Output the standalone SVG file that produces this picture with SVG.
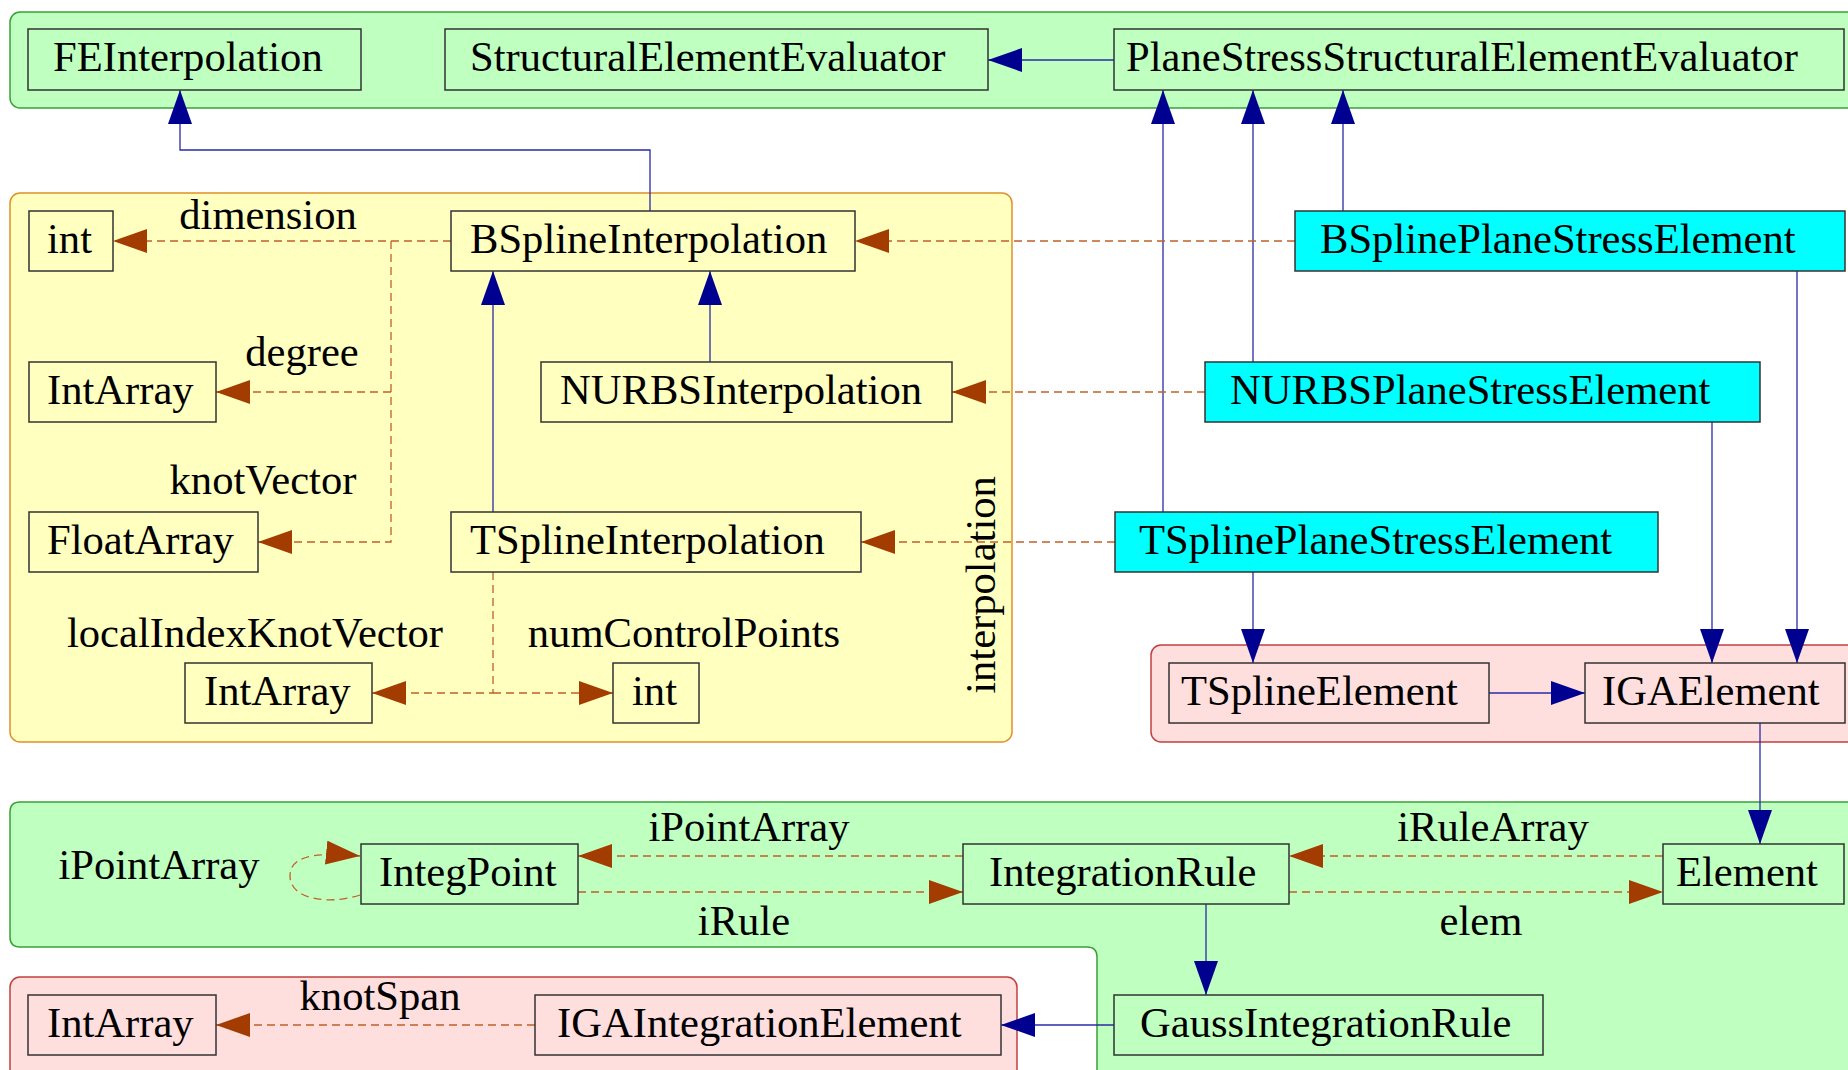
<svg xmlns="http://www.w3.org/2000/svg" width="1848" height="1070" viewBox="0 0 1848 1070">
<style>
text{font-family:"Liberation Serif","Times New Roman",serif;font-size:42.6px;fill:#000}
.lbl{text-anchor:middle}
.node{stroke:#333;stroke-width:1.5}
.plain{fill:none}
.cyan{fill:#00ffff}
.inh{fill:none;stroke:#2a2aa8;stroke-width:1.3;marker-end:url(#ah)}
.dep{fill:none;stroke:#c0602a;stroke-width:1.3;stroke-dasharray:8 5;marker-end:url(#dh)}
</style>
<defs>
<marker id="ah" markerUnits="userSpaceOnUse" markerWidth="34" markerHeight="24" refX="34" refY="12" orient="auto"><path d="M0,0 L34,12 L0,24 Z" fill="#000090"/></marker>
<marker id="dh" markerUnits="userSpaceOnUse" markerWidth="34" markerHeight="24" refX="34" refY="12" orient="auto"><path d="M0,0 L34,12 L0,24 Z" fill="#a33c00"/></marker>
</defs>
<rect width="1848" height="1070" fill="#fff"/>
<g id="clusters">
<rect x="10" y="12" width="1860" height="96" rx="10" fill="#bfffbf" stroke="#3aa03a" stroke-width="1.5"/>
<rect x="10" y="193" width="1002" height="549" rx="10" fill="#ffffc0" stroke="#e0902a" stroke-width="1.5"/>
<rect x="1151" y="645" width="720" height="97" rx="10" fill="#ffdede" stroke="#c04040" stroke-width="1.5"/>
<path d="M10,812 Q10,802 20,802 H1870 V1090 H1097 V957 Q1097,947 1087,947 H20 Q10,947 10,937 Z" fill="#bfffbf" stroke="#3aa03a" stroke-width="1.5"/>
<rect x="10" y="977" width="1007" height="110" rx="10" fill="#ffdede" stroke="#c04040" stroke-width="1.5"/>
<text transform="translate(995,585) rotate(-90)" class="lbl">interpolation</text>
</g>
<g id="connectors">
<path class="inh" d="M1114,60 H988"/>
<path class="inh" d="M650,211 V150 H180 V90"/>
<path class="inh" d="M1163,512 V90"/>
<path class="inh" d="M1253,362 V90"/>
<path class="inh" d="M1343,211 V90"/>
<path class="inh" d="M493,512 V271"/>
<path class="inh" d="M710,362 V271"/>
<path class="inh" d="M1253,572 V663"/>
<path class="inh" d="M1712,422 V663"/>
<path class="inh" d="M1797,271 V663"/>
<path class="inh" d="M1489,693 H1585"/>
<path class="inh" d="M1760,723 V844"/>
<path class="inh" d="M1206,904 V995"/>
<path class="inh" d="M1114,1025 H1001"/>
<path class="dep" d="M451,241 H113"/>
<path class="dep" d="M391,241 V542 H258"/>
<path class="dep" d="M391,392 H216"/>
<path class="dep" d="M493,572 V693 H372"/>
<path class="dep" d="M493,693 H613"/>
<path class="dep" d="M1295,241 H855"/>
<path class="dep" d="M1205,392 H952"/>
<path class="dep" d="M1115,542 H861"/>
<path class="dep" d="M963,856 H578"/>
<path class="dep" d="M578,892 H963"/>
<path class="dep" d="M1663,856 H1289"/>
<path class="dep" d="M1289,892 H1663"/>
<path class="dep" d="M360,895 C330,905 290,900 290,876 C290,858 310,851 360,856"/>
<path class="dep" d="M535,1025 H216"/>
<text class="lbl" x="268" y="229">dimension</text>
<text class="lbl" x="302" y="366">degree</text>
<text class="lbl" x="263" y="494">knotVector</text>
<text class="lbl" x="255" y="647">localIndexKnotVector</text>
<text class="lbl" x="684" y="647">numControlPoints</text>
<text class="lbl" x="159" y="879">iPointArray</text>
<text class="lbl" x="749" y="841">iPointArray</text>
<text class="lbl" x="744" y="935">iRule</text>
<text class="lbl" x="1493" y="841">iRuleArray</text>
<text class="lbl" x="1481" y="935">elem</text>
<text class="lbl" x="380" y="1010">knotSpan</text>
</g>
<g id="FEInterpolation"><rect class="node plain" x="28" y="29" width="333" height="61"/><text x="53" y="71">FEInterpolation</text></g>
<g id="StructuralElementEvaluator"><rect class="node plain" x="445" y="29" width="543" height="61"/><text x="470" y="71">StructuralElementEvaluator</text></g>
<g id="PlaneStressStructuralElementEvaluator"><rect class="node plain" x="1114" y="29" width="730" height="61"/><text x="1126" y="71">PlaneStressStructuralElementEvaluator</text></g>
<g id="int_dimension"><rect class="node plain" x="29" y="211" width="84" height="60"/><text x="47" y="253">int</text></g>
<g id="BSplineInterpolation"><rect class="node plain" x="451" y="211" width="404" height="60"/><text x="470" y="253">BSplineInterpolation</text></g>
<g id="IntArray_degree"><rect class="node plain" x="29" y="362" width="187" height="60"/><text x="47" y="404">IntArray</text></g>
<g id="NURBSInterpolation"><rect class="node plain" x="541" y="362" width="411" height="60"/><text x="560" y="404">NURBSInterpolation</text></g>
<g id="FloatArray"><rect class="node plain" x="29" y="512" width="229" height="60"/><text x="47" y="554">FloatArray</text></g>
<g id="TSplineInterpolation"><rect class="node plain" x="451" y="512" width="410" height="60"/><text x="470" y="554">TSplineInterpolation</text></g>
<g id="IntArray_localIndex"><rect class="node plain" x="185" y="663" width="187" height="60"/><text x="204" y="705">IntArray</text></g>
<g id="int_numControlPoints"><rect class="node plain" x="613" y="663" width="86" height="60"/><text x="632" y="705">int</text></g>
<g id="BSplinePlaneStressElement"><rect class="node cyan" x="1295" y="211" width="550" height="60"/><text x="1320" y="253">BSplinePlaneStressElement</text></g>
<g id="NURBSPlaneStressElement"><rect class="node cyan" x="1205" y="362" width="555" height="60"/><text x="1230" y="404">NURBSPlaneStressElement</text></g>
<g id="TSplinePlaneStressElement"><rect class="node cyan" x="1115" y="512" width="543" height="60"/><text x="1139" y="554">TSplinePlaneStressElement</text></g>
<g id="TSplineElement"><rect class="node plain" x="1169" y="663" width="320" height="60"/><text x="1181" y="705">TSplineElement</text></g>
<g id="IGAElement"><rect class="node plain" x="1585" y="663" width="260" height="60"/><text x="1602" y="705">IGAElement</text></g>
<g id="IntegPoint"><rect class="node plain" x="361" y="844" width="217" height="60"/><text x="379" y="886">IntegPoint</text></g>
<g id="IntegrationRule"><rect class="node plain" x="963" y="844" width="326" height="60"/><text x="989" y="886">IntegrationRule</text></g>
<g id="Element"><rect class="node plain" x="1663" y="844" width="181" height="60"/><text x="1676" y="886">Element</text></g>
<g id="GaussIntegrationRule"><rect class="node plain" x="1114" y="995" width="429" height="60"/><text x="1140" y="1037">GaussIntegrationRule</text></g>
<g id="IntArray_knotSpan"><rect class="node plain" x="28" y="995" width="188" height="60"/><text x="47" y="1037">IntArray</text></g>
<g id="IGAIntegrationElement"><rect class="node plain" x="535" y="995" width="466" height="60"/><text x="557" y="1037">IGAIntegrationElement</text></g>
</svg>
